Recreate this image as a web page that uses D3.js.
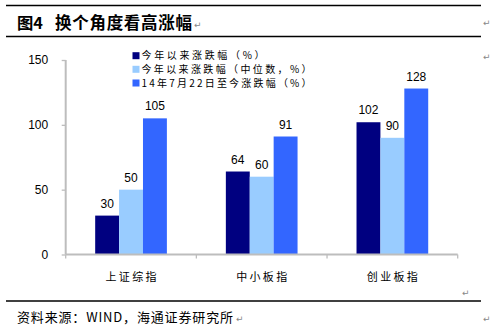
<!DOCTYPE html>
<html><head><meta charset="utf-8">
<script src="https://cdn.jsdelivr.net/npm/d3@7"></script>
<style>
html,body{margin:0;padding:0;background:#fff;}
svg{display:block;}
</style></head>
<body>
<script>
const categories = ["上证综指", "中小板指", "创业板指"];
const seriesNames = ["今年以来涨跌幅（%）", "今年以来涨跌幅（中位数，%）", "14年7月22日至今涨跌幅（%）"];
const seriesYTD = [30, 64, 102];
const seriesMedian = [50, 60, 90];
const seriesSince = [105, 91, 128];
const yTicks = [0, 50, 100, 150];
const colors = ["#000080", "#99CCFF", "#3366FF"];

const W = 492, H = 329;
const svg = d3.select("body").append("svg").attr("width", W).attr("height", H);
const cjk = "'Noto Sans CJK SC', 'Noto Sans', sans-serif";
const latin = "Arial, 'Liberation Sans', sans-serif";

// frame lines
svg.append("line").attr("x1", 6).attr("x2", 481).attr("y1", 5.5).attr("y2", 5.5).attr("stroke", "#000").attr("stroke-width", 1.3);
svg.append("line").attr("x1", 6).attr("x2", 481).attr("y1", 36.5).attr("y2", 36.5).attr("stroke", "#000").attr("stroke-width", 1.3);
svg.append("line").attr("x1", 6).attr("x2", 481).attr("y1", 301).attr("y2", 301).attr("stroke", "#000").attr("stroke-width", 1.3);

// title
svg.append("text").attr("x", 17).attr("y", 29).attr("font-family", cjk).attr("font-weight", "bold")
  .attr("font-size", 16).attr("textLength", 26).attr("lengthAdjust", "spacingAndGlyphs").text("图4");
svg.append("text").attr("x", 55).attr("y", 29).attr("font-family", cjk).attr("font-weight", "bold")
  .attr("font-size", 16.5).attr("textLength", 137).attr("lengthAdjust", "spacing").text("换个角度看高涨幅");

// source
svg.append("text").attr("x", 17).attr("y", 322).attr("font-family", cjk).attr("font-size", 13)
  .attr("textLength", 216).attr("lengthAdjust", "spacing").text("资料来源：WIND，海通证券研究所");

// return marks
const marks = [[194, 28], [483, 26], [483, 60], [462, 296], [236, 322], [483, 322]];
svg.selectAll("text.ret").data(marks).enter().append("text").attr("class", "ret")
  .attr("x", d => d[0]).attr("y", d => d[1]).attr("font-size", 9).attr("fill", "#888")
  .attr("font-family", "'DejaVu Sans', sans-serif").text("↵");

// scales
const x0 = d3.scaleBand().domain(categories).range([65.7, 457.7]).padding(0);
const groupW = 71.7;
const x1 = d3.scaleBand().domain([0, 1, 2]).range([0, groupW]).padding(0);
const y = d3.scaleLinear().domain([0, 150]).range([254.5, 60]);

// y axis
const yAxis = d3.axisLeft(y).tickValues(yTicks).tickSize(4).tickPadding(13);
const gy = svg.append("g").attr("transform", "translate(65.7,0)").call(yAxis);
gy.select(".domain").attr("stroke", "#BDBDBD").attr("stroke-width", 2).attr("d", `M0,${y(150)}V${y(0)}`);
gy.selectAll(".tick line").attr("stroke", "#BDBDBD").attr("stroke-width", 1.3);
gy.selectAll(".tick text").attr("font-family", latin).attr("font-size", 12).attr("fill", "#000").attr("dx", -0.5);

// bars
const data = [seriesYTD, seriesMedian, seriesSince];
categories.forEach((c, ci) => {
  const gx = x0(c) + (x0.bandwidth() - groupW) / 2;
  data.forEach((s, si) => {
    svg.append("rect").attr("x", gx + x1(si)).attr("y", y(s[ci]))
      .attr("width", x1.bandwidth()).attr("height", y(0) - y(s[ci])).attr("fill", colors[si]);
    svg.append("text").attr("x", gx + x1(si) + x1.bandwidth() / 2).attr("y", y(s[ci]) - 8)
      .attr("text-anchor", "middle").attr("font-family", latin).attr("font-size", 12).attr("fill", "#000")
      .text(s[ci]);
  });
});

// x axis
svg.append("line").attr("x1", 65.7).attr("x2", 457.7).attr("y1", y(0)).attr("y2", y(0))
  .attr("stroke", "#BDBDBD").attr("stroke-width", 2);
const bounds = [x0(categories[0])].concat(categories.map(c => x0(c) + x0.bandwidth()));
svg.selectAll("line.xt").data(bounds).enter().append("line").attr("class", "xt")
  .attr("x1", d => d).attr("x2", d => d).attr("y1", y(0)).attr("y2", y(0) + 4)
  .attr("stroke", "#BDBDBD").attr("stroke-width", 1.3);
svg.selectAll("text.cat").data(categories).enter().append("text").attr("class", "cat")
  .attr("x", d => x0(d) + x0.bandwidth() / 2).attr("y", 281).attr("text-anchor", "middle")
  .attr("font-family", cjk).attr("font-size", 11).attr("textLength", 51).attr("lengthAdjust", "spacing")
  .text(d => d);

// legend
const legY = [55.7, 69.3, 83];
const legLen = [123, 170, 170];
seriesNames.forEach((n, i) => {
  svg.append("rect").attr("x", 132.5).attr("y", legY[i] - 3.5).attr("width", 7).attr("height", 7).attr("fill", colors[i]);
  svg.append("text").attr("x", 141.5).attr("y", legY[i] + 3.6).attr("font-family", cjk).attr("font-size", 10)
    .attr("textLength", legLen[i]).attr("lengthAdjust", "spacing").text(n);
});
</script>
</body></html>
